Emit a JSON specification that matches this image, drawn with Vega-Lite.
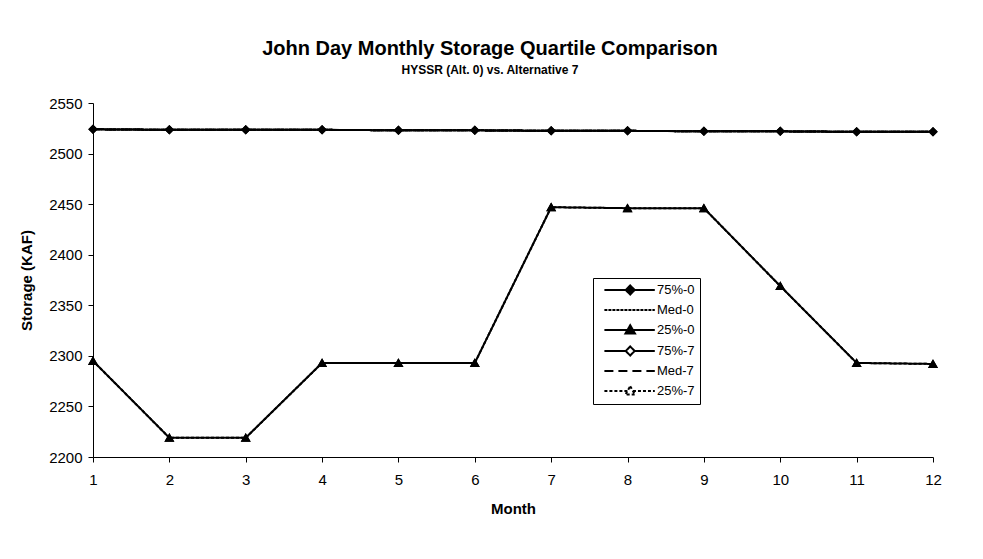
{
  "$schema": "https://vega.github.io/schema/vega-lite/v6.json",
  "autosize": {"type": "none"},
  "padding": {"left": 93, "top": 103, "right": 50, "bottom": 102},
  "width": 840,
  "height": 354,
  "background": "white",
  "title": {
    "text": "John Day Monthly Storage Quartile Comparison",
    "subtitle": "HYSSR (Alt. 0) vs. Alternative 7",
    "font": "Liberation Sans",
    "fontSize": 20,
    "fontWeight": "bold",
    "subtitleFont": "Liberation Sans",
    "subtitleFontSize": 12,
    "subtitleFontWeight": "bold",
    "subtitleColor": "black",
    "subtitlePadding": 6,
    "color": "black",
    "anchor": "middle",
    "offset": 20,
    "dx": -23
  },
  "data": {
    "values": [
      {"month": 1, "series": "75%-7", "value": 2524},
      {"month": 2, "series": "75%-7", "value": 2523.5},
      {"month": 3, "series": "75%-7", "value": 2523.5},
      {"month": 4, "series": "75%-7", "value": 2523.5},
      {"month": 5, "series": "75%-7", "value": 2523},
      {"month": 6, "series": "75%-7", "value": 2523},
      {"month": 7, "series": "75%-7", "value": 2522.5},
      {"month": 8, "series": "75%-7", "value": 2522.5},
      {"month": 9, "series": "75%-7", "value": 2522},
      {"month": 10, "series": "75%-7", "value": 2522},
      {"month": 11, "series": "75%-7", "value": 2521.5},
      {"month": 12, "series": "75%-7", "value": 2521.5},
      {"month": 1, "series": "25%-7", "value": 2295},
      {"month": 2, "series": "25%-7", "value": 2219},
      {"month": 3, "series": "25%-7", "value": 2219},
      {"month": 4, "series": "25%-7", "value": 2293},
      {"month": 5, "series": "25%-7", "value": 2293},
      {"month": 6, "series": "25%-7", "value": 2293},
      {"month": 7, "series": "25%-7", "value": 2447},
      {"month": 8, "series": "25%-7", "value": 2446},
      {"month": 9, "series": "25%-7", "value": 2446},
      {"month": 10, "series": "25%-7", "value": 2369},
      {"month": 11, "series": "25%-7", "value": 2293},
      {"month": 12, "series": "25%-7", "value": 2292},
      {"month": 1, "series": "75%-0", "value": 2524},
      {"month": 2, "series": "75%-0", "value": 2523.5},
      {"month": 3, "series": "75%-0", "value": 2523.5},
      {"month": 4, "series": "75%-0", "value": 2523.5},
      {"month": 5, "series": "75%-0", "value": 2523},
      {"month": 6, "series": "75%-0", "value": 2523},
      {"month": 7, "series": "75%-0", "value": 2522.5},
      {"month": 8, "series": "75%-0", "value": 2522.5},
      {"month": 9, "series": "75%-0", "value": 2522},
      {"month": 10, "series": "75%-0", "value": 2522},
      {"month": 11, "series": "75%-0", "value": 2521.5},
      {"month": 12, "series": "75%-0", "value": 2521.5},
      {"month": 1, "series": "Med-0", "value": 2524},
      {"month": 2, "series": "Med-0", "value": 2523.5},
      {"month": 3, "series": "Med-0", "value": 2523.5},
      {"month": 4, "series": "Med-0", "value": 2523.5},
      {"month": 5, "series": "Med-0", "value": 2523},
      {"month": 6, "series": "Med-0", "value": 2523},
      {"month": 7, "series": "Med-0", "value": 2522.5},
      {"month": 8, "series": "Med-0", "value": 2522.5},
      {"month": 9, "series": "Med-0", "value": 2522},
      {"month": 10, "series": "Med-0", "value": 2522},
      {"month": 11, "series": "Med-0", "value": 2521.5},
      {"month": 12, "series": "Med-0", "value": 2521.5},
      {"month": 1, "series": "25%-0", "value": 2295},
      {"month": 2, "series": "25%-0", "value": 2219},
      {"month": 3, "series": "25%-0", "value": 2219},
      {"month": 4, "series": "25%-0", "value": 2293},
      {"month": 5, "series": "25%-0", "value": 2293},
      {"month": 6, "series": "25%-0", "value": 2293},
      {"month": 7, "series": "25%-0", "value": 2447},
      {"month": 8, "series": "25%-0", "value": 2446},
      {"month": 9, "series": "25%-0", "value": 2446},
      {"month": 10, "series": "25%-0", "value": 2369},
      {"month": 11, "series": "25%-0", "value": 2293},
      {"month": 12, "series": "25%-0", "value": 2292},
      {"month": 1, "series": "Med-7", "value": 2524},
      {"month": 2, "series": "Med-7", "value": 2523.5},
      {"month": 3, "series": "Med-7", "value": 2523.5},
      {"month": 4, "series": "Med-7", "value": 2523.5},
      {"month": 5, "series": "Med-7", "value": 2523},
      {"month": 6, "series": "Med-7", "value": 2523},
      {"month": 7, "series": "Med-7", "value": 2522.5},
      {"month": 8, "series": "Med-7", "value": 2522.5},
      {"month": 9, "series": "Med-7", "value": 2522},
      {"month": 10, "series": "Med-7", "value": 2522},
      {"month": 11, "series": "Med-7", "value": 2521.5},
      {"month": 12, "series": "Med-7", "value": 2521.5}
    ]
  },
  "encoding": {
    "x": {
      "field": "month",
      "type": "quantitative",
      "scale": {"domain": [1, 12], "nice": false, "zero": false},
      "axis": {
        "title": "Month",
        "values": [1, 2, 3, 4, 5, 6, 7, 8, 9, 10, 11, 12],
        "format": "d",
        "grid": false,
        "labelFlush": false,
        "labelPadding": 10,
        "titlePadding": 14
      }
    },
    "y": {
      "field": "value",
      "type": "quantitative",
      "scale": {"domain": [2200, 2550], "nice": false, "zero": false},
      "axis": {
        "title": "Storage (KAF)",
        "values": [2200, 2250, 2300, 2350, 2400, 2450, 2500, 2550],
        "format": "d",
        "grid": false,
        "labelPadding": 6,
        "titlePadding": 14
      }
    }
  },
  "layer": [
    {
      "mark": {"type": "line", "strokeWidth": 2, "color": "black"},
      "encoding": {
        "strokeDash": {
          "field": "series",
          "type": "nominal",
          "scale": {
            "domain": ["75%-0", "Med-0", "25%-0", "75%-7", "Med-7", "25%-7"],
            "range": [[1, 0], [3, 1], [1, 0], [1, 0], [9, 5], [3, 2]]
          },
          "legend": {
            "title": null,
            "orient": "none",
            "legendX": 500,
            "legendY": 175,
            "strokeColor": "black",
            "padding": 5,
            "symbolSize": 144,
            "symbolStrokeWidth": 2,
            "symbolStrokeColor": "black",
            "labelFont": "Liberation Sans",
            "labelFontSize": 13,
            "labelColor": "black",
            "labelOffset": 45,
            "rowPadding": 4,
            "encode": {
              "symbols": {
                "update": {
                  "shape": {
                    "signal": "(datum.value == '75%-0' || datum.value == '75%-7') ? 'M-0.1,0H3.45M4.95,0H8.3M4.2,-0.75L4.95,0L4.2,0.75L3.45,0Z' : ((datum.value == '25%-0' || datum.value == '25%-7') ? 'M-0.1,0H3.74M4.66,0H8.3M4.2,-0.8L5,0.6L3.4,0.6Z' : 'M-0.1,0H8.3')"
                  },
                  "fill": {
                    "signal": "(datum.value == '75%-0' || datum.value == '25%-0') ? 'black' : 'white'"
                  },
                  "stroke": {"value": "black"},
                  "strokeWidth": {"value": 2},
                  "opacity": {"value": 1}
                }
              }
            }
          }
        }
      }
    },
    {
      "transform": [{"filter": "datum.series == '75%-7'"}],
      "mark": {"type": "point", "shape": "diamond", "filled": true, "fill": "white", "stroke": "black", "strokeWidth": 1.5, "opacity": 1, "size": 55}
    },
    {
      "transform": [{"filter": "datum.series == '25%-7'"}],
      "mark": {"type": "point", "shape": "triangle-up", "filled": true, "fill": "white", "stroke": "black", "strokeWidth": 1.5, "opacity": 1, "size": 55}
    },
    {
      "transform": [{"filter": "datum.series == '75%-0'"}],
      "mark": {"type": "point", "shape": "diamond", "filled": true, "fill": "black", "stroke": "black", "strokeWidth": 1.5, "opacity": 1, "size": 55}
    },
    {
      "transform": [{"filter": "datum.series == '25%-0'"}],
      "mark": {"type": "point", "shape": "triangle-up", "filled": true, "fill": "black", "stroke": "black", "strokeWidth": 1.5, "opacity": 1, "size": 55}
    }
  ],
  "config": {
    "view": {"stroke": null},
    "axis": {
      "domainColor": "black",
      "domainWidth": 1,
      "tickColor": "black",
      "tickSize": 5,
      "labelFont": "Liberation Sans",
      "labelFontSize": 15,
      "labelColor": "black",
      "titleFont": "Liberation Sans",
      "titleFontSize": 15,
      "titleFontWeight": "bold",
      "titleColor": "black"
    }
  }
}
